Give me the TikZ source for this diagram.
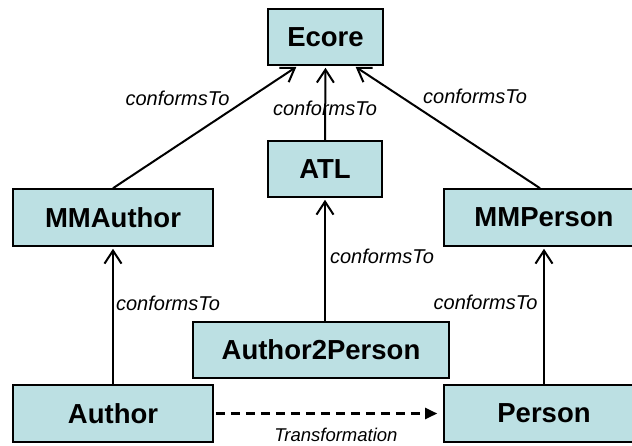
\documentclass[tikz,border=0pt]{standalone}
\usepackage{fontspec}
\setmainfont{Liberation Sans}
\usetikzlibrary{arrows.meta}
\definecolor{boxfill}{RGB}{188,224,227}
\begin{document}
\begin{tikzpicture}[x=1pt,y=-1pt,
  box/.style={draw=black, line width=1.6pt, fill=boxfill, inner sep=0pt,
    minimum height=56pt, font=\fontsize{27.5}{30}\selectfont\bfseries},
  conf/.style={-{Straight Barb[length=13pt,width=17pt,line width=2pt]}, line width=2pt, shorten >=2pt},
  lbl/.style={font=\fontsize{20}{22}\selectfont\itshape, anchor=base, inner sep=0pt},
  trans/.style={-{Triangle[length=12pt,width=11pt]}, line width=2.2pt, dash pattern=on 9pt off 6pt, shorten >=6pt, shorten <=2pt}
]
\useasboundingbox (0,0) rectangle (632,445);
\clip (0,0) rectangle (632,445);
\node[box, minimum width=115pt] (ecore) at (325.5,37) {Ecore};
\node[box, minimum width=114pt] (atl) at (325,169) {ATL};
\node[box, minimum width=200pt, minimum height=57pt] (mma) at (113,217.5) {MMAuthor};
\node[box, minimum width=200pt, minimum height=57pt] (mmp) at (544,217.5) {MMPerson};
\node[box, minimum width=256pt] (a2p) at (321,350) {Author2Person};
\node[box, minimum width=200pt, minimum height=57pt] (author) at (113,413.5) {Author};
\node[box, minimum width=200pt, minimum height=57pt] (person) at (544,413.5) {Person};

\draw[conf] (mma.north) -- ([xshift=-27.5pt]ecore.south);
\draw[conf] (atl.north) -- (ecore.south);
\draw[conf] ([xshift=-4pt]mmp.north) -- ([xshift=28.5pt]ecore.south);
\draw[conf] (author.north) -- (mma.south);
\draw[conf] (person.north) -- (mmp.south);
\draw[conf] ([xshift=4pt]a2p.north) -- (atl.south);
\draw[trans] (author.east) -- (person.west);

\node[lbl] (l1) at (177.5,105) {conformsTo};
\node[lbl] (l2) at (325,115) {conformsTo};
\node[lbl] (l3) at (475,103) {conformsTo};
\node[lbl] (l4) at (382,263) {conformsTo};
\node[lbl] (l5) at (168,310) {conformsTo};
\node[lbl] (l6) at (485.5,309) {conformsTo};
\node[lbl, font=\fontsize{18.5}{20}\selectfont\itshape] (l7) at (336,441) {Transformation};
\end{tikzpicture}
\end{document}
